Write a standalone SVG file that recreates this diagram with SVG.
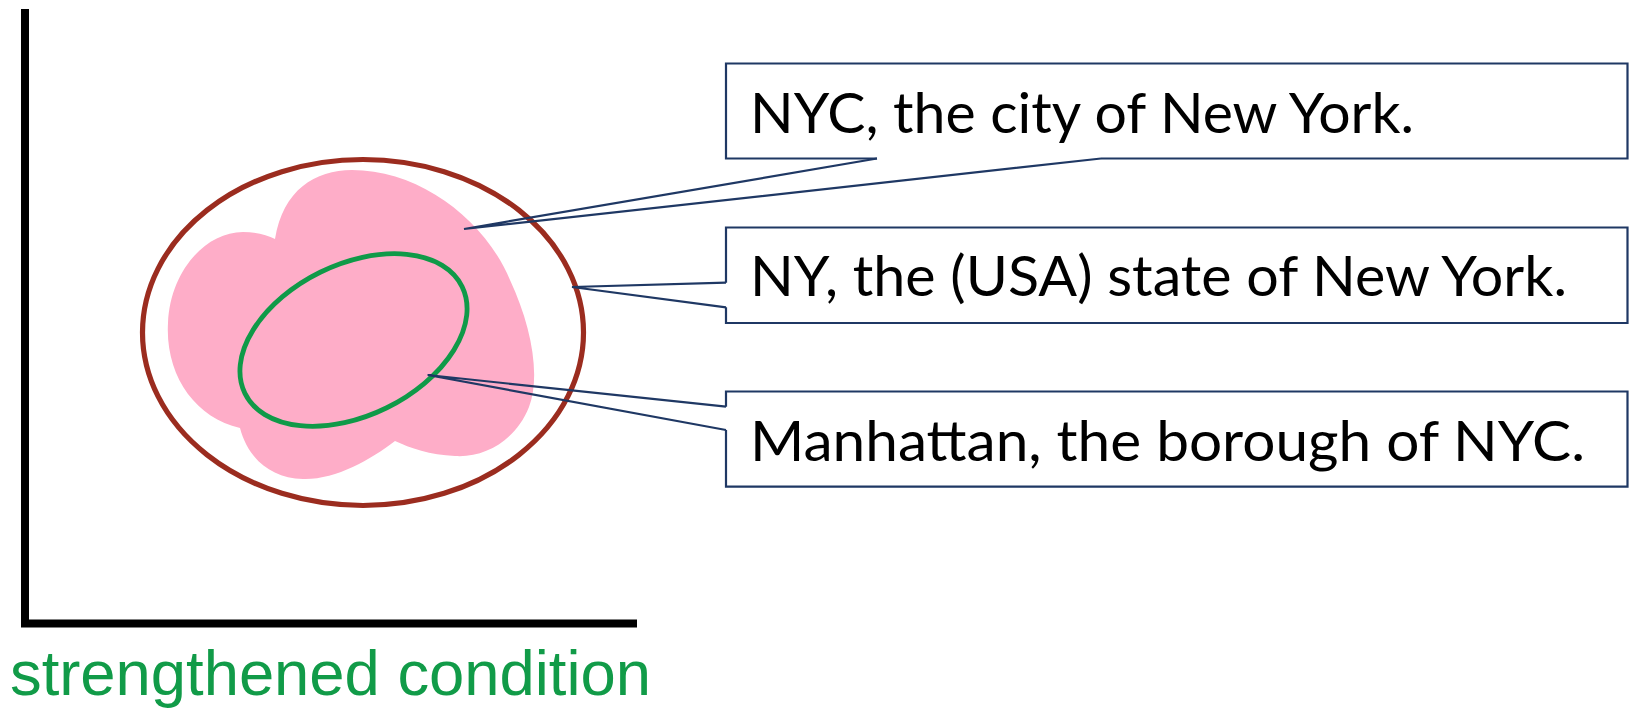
<svg xmlns="http://www.w3.org/2000/svg" width="1629" height="711" viewBox="0 0 1629 711">
<style>
.callout{fill:none;stroke:#1F3864;stroke-width:2.2;stroke-linejoin:miter}
.lbl{font-family:Lato,"Liberation Sans",sans-serif;font-size:57px;fill:#000}
.axis{fill:none;stroke:#000;stroke-width:8;stroke-linejoin:miter}
</style>
<rect width="1629" height="711" fill="#fff"/>
<g id="axes">
<path class="axis" d="M25 9 V623.5 H637"/>
<text x="10" y="695" font-family="'Liberation Sans',Arial,sans-serif" font-size="63.5" fill="#119B48" textLength="641" lengthAdjust="spacingAndGlyphs">strengthened condition</text>
</g>
<g id="ny-state">
<ellipse cx="363" cy="332.5" rx="220.5" ry="173" fill="#fff" stroke="#9B2C1F" stroke-width="5.2"/>
</g>
<g id="nyc">
<path fill="#FEADC8" d="M275 239 C283 190 315 170 352 170 C420 170 485 220 510 280 C531 325 541 375 529 407 C516 440 485 458 455 456 C430 455 410 448 395 441 C370 460 335 480 303 479 C270 478 248 458 240 428 C195 418 165 375 168 323 C170 272 205 232 243 232 C255 232 267 235 275 239 Z"/>
</g>
<g id="manhattan">
<ellipse cx="0" cy="0" rx="121" ry="75.5" transform="translate(353.5 340) rotate(-26.2)" fill="none" stroke="#0F9A48" stroke-width="4.8"/>
</g>
<g id="connectors" class="callout">
<path d="M877 158.5 L464 229 L1101 158.5"/>
<path d="M726 282.7 L572 287 L726 307.3"/>
<path d="M726 406.7 L427.7 375 L726 430"/>
</g>
<g id="label-nyc">
<path class="callout" d="M1101 158.5 H1627.5 V63.5 H726 V158.5 H877"/>
<text class="lbl" x="750" y="132.5" textLength="664" lengthAdjust="spacingAndGlyphs">NYC, the city of New York.</text>
</g>
<g id="label-ny">
<path class="callout" d="M726 282.7 V227.5 H1627.5 V323 H726 V307.3"/>
<text class="lbl" x="750" y="296" textLength="817" lengthAdjust="spacingAndGlyphs">NY, the (USA) state of New York.</text>
</g>
<g id="label-manhattan">
<path class="callout" d="M726 406.7 V391.5 H1627.5 V486.7 H726 V430"/>
<text class="lbl" x="750" y="461" textLength="835" lengthAdjust="spacingAndGlyphs">Manhattan, the borough of NYC.</text>
</g>
</svg>
